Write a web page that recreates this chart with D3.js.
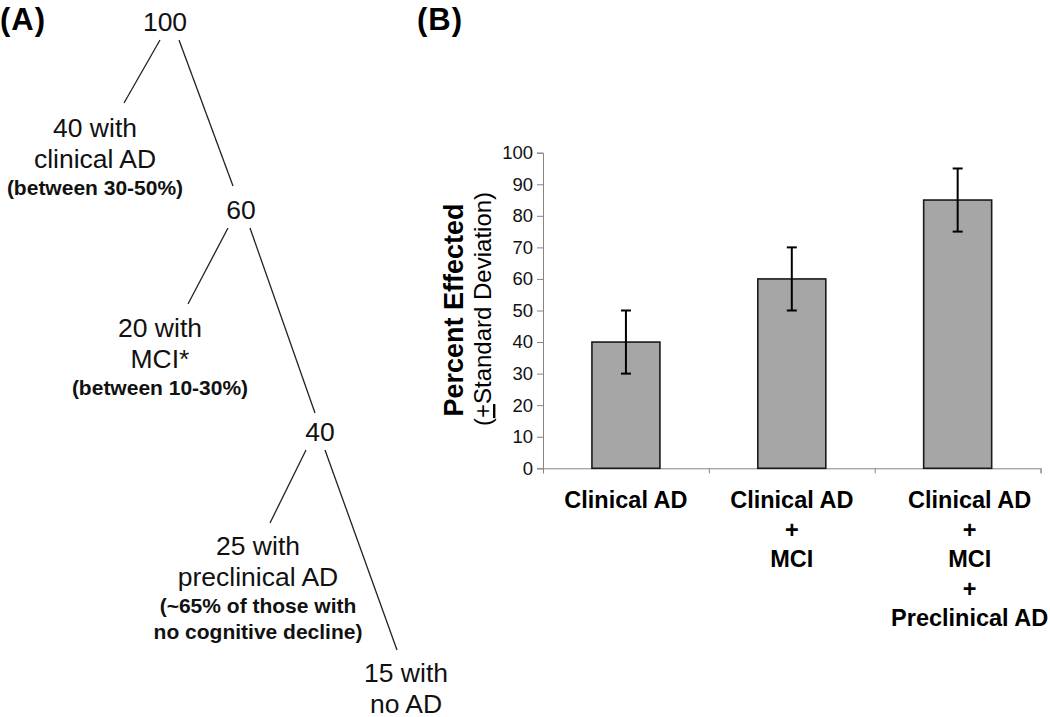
<!DOCTYPE html>
<html>
<head>
<meta charset="utf-8">
<script src="https://cdn.jsdelivr.net/npm/d3@7"></script>
<style>
  html, body { margin: 0; padding: 0; background: #fff; }
  svg { display: block; font-family: "Liberation Sans", Arial, sans-serif; }
</style>
</head>
<body>
<svg id="chart" width="1050" height="717"></svg>
<script>
// ---------------- DATA ----------------
// Panel B: bar chart
const categories = [
  ["Clinical AD"],
  ["Clinical AD", "+", "MCI"],
  ["Clinical AD", "+", "MCI", "+", "Preclinical AD"]
];
const percentValues = [40, 60, 85];
const stdDevs = [10, 10, 10];
const yTicks = [0, 10, 20, 30, 40, 50, 60, 70, 80, 90, 100];

// Panel A: tree diagram (counts out of 100)
const branchCounts = ["100", "60", "40"];
const leafLabels = [
  ["40 with", "clinical AD"],
  ["20 with", "MCI*"],
  ["25 with", "preclinical AD"],
  ["15 with", "no AD"]
];
const leafNotes = [
  ["(between 30-50%)"],
  ["(between 10-30%)"],
  ["(~65% of those with", "no cognitive decline)"],
  []
];

// ---------------- DRAW ----------------
const svg = d3.select("#chart");

// Panel labels
svg.append("text").attr("x", 0).attr("y", 30)
  .attr("font-size", 31).attr("font-weight", "bold").attr("letter-spacing", 1).text("(A)");
svg.append("text").attr("x", 417).attr("y", 30)
  .attr("font-size", 31).attr("font-weight", "bold").attr("letter-spacing", 1).text("(B)");

// ---------- Panel A: tree ----------
const treeLayout = {
  branches: [ {x: 165, y: 31}, {x: 241, y: 219}, {x: 320, y: 441} ],
  leaves: [ {x: 95, y: 137}, {x: 160, y: 337}, {x: 258, y: 555}, {x: 406, y: 682} ],
  edges: [
    [[160, 40], [124, 103]],
    [[179, 40], [233, 186]],
    [[228, 228], [188, 304]],
    [[250, 228], [315, 413]],
    [[306, 450], [270, 523]],
    [[325, 450], [397, 650]]
  ],
  lineH: 30.5,
  noteGap: 27,
  noteH: 26
};

const gTree = svg.append("g").attr("class", "tree");

gTree.selectAll("line.edge").data(treeLayout.edges).join("line")
  .attr("class", "edge")
  .attr("x1", d => d[0][0]).attr("y1", d => d[0][1])
  .attr("x2", d => d[1][0]).attr("y2", d => d[1][1])
  .attr("stroke", "#222").attr("stroke-width", 1.3);

gTree.selectAll("text.branch").data(branchCounts).join("text")
  .attr("class", "branch")
  .attr("x", (d, i) => treeLayout.branches[i].x)
  .attr("y", (d, i) => treeLayout.branches[i].y)
  .attr("text-anchor", "middle").attr("font-size", 26.5).attr("fill", "#111")
  .text(d => d);

leafLabels.forEach((lines, i) => {
  const pos = treeLayout.leaves[i];
  const t = gTree.append("text").attr("text-anchor", "middle").attr("fill", "#111");
  lines.forEach((ln, j) => {
    t.append("tspan").attr("x", pos.x).attr("y", pos.y + j * treeLayout.lineH)
      .attr("font-size", 26.5).text(ln);
  });
  const lastY = pos.y + (lines.length - 1) * treeLayout.lineH;
  leafNotes[i].forEach((ln, j) => {
    t.append("tspan").attr("x", pos.x)
      .attr("y", lastY + treeLayout.noteGap + j * treeLayout.noteH)
      .attr("font-size", 21).attr("font-weight", "bold").text(ln);
  });
});

// ---------- Panel B: bar chart ----------
const plot = { left: 543, right: 1040.6, top: 152.7, bottom: 468.3 };

const y = d3.scaleLinear().domain([0, 100]).range([plot.bottom, plot.top]);
const x = d3.scaleBand().domain(d3.range(categories.length))
  .range([plot.left, plot.right]).paddingInner(0.59).paddingOuter(0.295);
const xBound = d3.scaleLinear().domain([0, categories.length]).range([plot.left, plot.right]);

const axisColor = "#858585";

// Y axis
const yAxis = svg.append("g").attr("transform", `translate(${plot.left},0)`)
  .call(d3.axisLeft(y).tickValues(yTicks).tickSize(6).tickPadding(4).tickFormat(d3.format("d")));
yAxis.select(".domain").attr("stroke", axisColor);
yAxis.selectAll(".tick line").attr("stroke", axisColor);
yAxis.selectAll(".tick text").attr("font-size", 18.5).attr("fill", "#111")
  .attr("font-family", "Liberation Sans, Arial, sans-serif");

// X axis (ticks at category boundaries)
const xAxis = svg.append("g").attr("transform", `translate(0,${plot.bottom})`)
  .call(d3.axisBottom(xBound).tickValues(d3.range(categories.length + 1)).tickSize(5).tickFormat(""));
xAxis.select(".domain").attr("stroke", axisColor);
xAxis.selectAll(".tick line").attr("stroke", axisColor);

// Bars
svg.selectAll("rect.bar").data(percentValues).join("rect")
  .attr("class", "bar")
  .attr("x", (d, i) => x(i)).attr("width", x.bandwidth())
  .attr("y", d => y(d)).attr("height", d => y(0) - y(d))
  .attr("fill", "#a6a6a6").attr("stroke", "#1a1a1a").attr("stroke-width", 1.6);

// Error bars
const capW = 10;
const eb = svg.selectAll("g.err").data(percentValues).join("g").attr("class", "err")
  .attr("stroke", "#000").attr("stroke-width", 2);
eb.append("line")
  .attr("x1", (d, i) => x(i) + x.bandwidth() / 2).attr("x2", (d, i) => x(i) + x.bandwidth() / 2)
  .attr("y1", (d, i) => y(d + stdDevs[i])).attr("y2", (d, i) => y(d - stdDevs[i]));
eb.append("line")
  .attr("x1", (d, i) => x(i) + x.bandwidth() / 2 - capW / 2).attr("x2", (d, i) => x(i) + x.bandwidth() / 2 + capW / 2)
  .attr("y1", (d, i) => y(d + stdDevs[i])).attr("y2", (d, i) => y(d + stdDevs[i]));
eb.append("line")
  .attr("x1", (d, i) => x(i) + x.bandwidth() / 2 - capW / 2).attr("x2", (d, i) => x(i) + x.bandwidth() / 2 + capW / 2)
  .attr("y1", (d, i) => y(d - stdDevs[i])).attr("y2", (d, i) => y(d - stdDevs[i]));

// Category labels
const labelShift = [0, 0, 12];
categories.forEach((lines, i) => {
  const cx = x(i) + x.bandwidth() / 2 + labelShift[i];
  const t = svg.append("text").attr("text-anchor", "middle")
    .attr("font-size", 23.5).attr("font-weight", "bold").attr("fill", "#000");
  lines.forEach((ln, j) => {
    t.append("tspan").attr("x", cx).attr("y", plot.bottom + 40 + j * 29.4).text(ln);
  });
});

// Y axis title
const midY = (plot.top + plot.bottom) / 2;
svg.append("text")
  .attr("transform", `translate(463,${midY - 0.5}) rotate(-90)`)
  .attr("text-anchor", "middle").attr("font-size", 27).attr("font-weight", "bold")
  .text("Percent Effected");
const sub = svg.append("text")
  .attr("transform", `translate(491,${midY - 1.5}) rotate(-90)`)
  .attr("text-anchor", "middle").attr("font-size", 24);
sub.append("tspan").text("(");
sub.append("tspan").attr("text-decoration", "underline").text("+");
sub.append("tspan").text("Standard Deviation)");
</script>
</body>
</html>
